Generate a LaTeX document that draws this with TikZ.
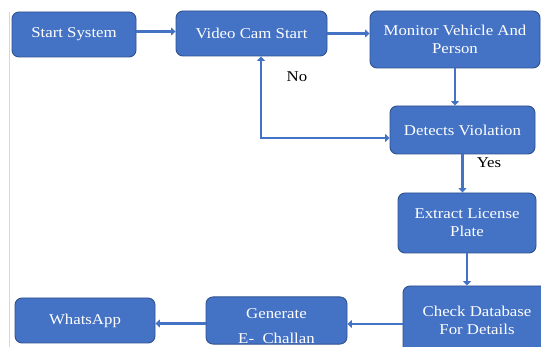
\documentclass[tikz,border=0pt]{standalone}
\usepackage{fontspec}
\setmainfont{Liberation Serif}[FakeStretch=1.12]
\usetikzlibrary{arrows.meta,calc}
\definecolor{boxBlue}{RGB}{68,114,196}
\definecolor{edgeBlue}{RGB}{47,82,143}
\definecolor{pageGray}{RGB}{215,215,215}

\begin{document}
\begin{tikzpicture}[x=1pt,y=-1pt,
  box/.style={draw=edgeBlue,line width=0.9pt,fill=boxBlue,rounded corners=7pt,
    text=white,align=center,inner sep=0pt,font=\rmfamily\fontsize{15}{18}\selectfont},
  flow/.style={boxBlue,line width=2.6pt,-{Triangle[length=4.5pt,width=8pt]}},
  tag/.style={font=\rmfamily\fontsize{15}{18}\selectfont,inner sep=0pt}]

% Page area
\useasboundingbox (0,0) rectangle (541,347);
\clip (0,0) rectangle (541,347);
\fill[white] (0,0) rectangle (541,347);
\draw[pageGray,line width=0.6pt] (9.5,12) -- (9.5,347);

% Top row
\node[box,minimum width=124pt,minimum height=45pt] (start) at (74,34.5) {Start System};
\node[box,minimum width=151pt,minimum height=45pt] (cam) at (251.5,33.5) {Video Cam Start};
\node[box,minimum width=170pt,minimum height=57pt] (monitor) at (455,39.5) {Monitor Vehicle And\\Person};

% Right column
\node[box,minimum width=145pt,minimum height=48pt] (detect) at (462.5,130) {Detects Violation};
\node[box,minimum width=138pt,minimum height=60pt] (extract) at (467,223) {Extract License\\Plate};
\node[box,minimum width=148pt,minimum height=68pt] (check) at (477,320) {Check Database\\For Details};

% Bottom row
\node[box,minimum width=141pt,minimum height=47pt,font=\rmfamily\fontsize{15}{25}\selectfont] (challan) at (276.5,320.5) {\rule{0pt}{22pt}Generate\\E-\ \ Challan};
\node[box,minimum width=140pt,minimum height=45pt] (whatsapp) at (85,320.5) {WhatsApp};

% Arrows
\draw[flow] ([yshift=3pt]start.east) -- ([yshift=3pt]start.east -| cam.west);
\draw[flow] (cam.east) -- (cam.east -| monitor.west);
\draw[flow] (monitor.south) -- (monitor.south |- detect.north);
\draw[flow] (detect.south) -- (detect.south |- extract.north);
\draw[flow] (extract.south) -- (extract.south |- check.north);
\draw[flow] ([yshift=-4pt]check.west) -- ([yshift=-4pt]check.west -| challan.east);
\draw[flow] ([yshift=-3pt]challan.west) -- ([yshift=-3pt]challan.west -| whatsapp.east);

% No-violation loop back to the camera
\coordinate (loop) at (261,138);
\draw[flow,{Triangle[length=4.5pt,width=8pt]}-{Triangle[length=4.5pt,width=8pt]}]
  (cam.south -| loop) -- (loop) -- (loop -| detect.west);

% Branch labels
\node[tag] (no) at (297,77) {No};
\node[tag] (yes) at (489,163) {Yes};

\end{tikzpicture}
\end{document}
